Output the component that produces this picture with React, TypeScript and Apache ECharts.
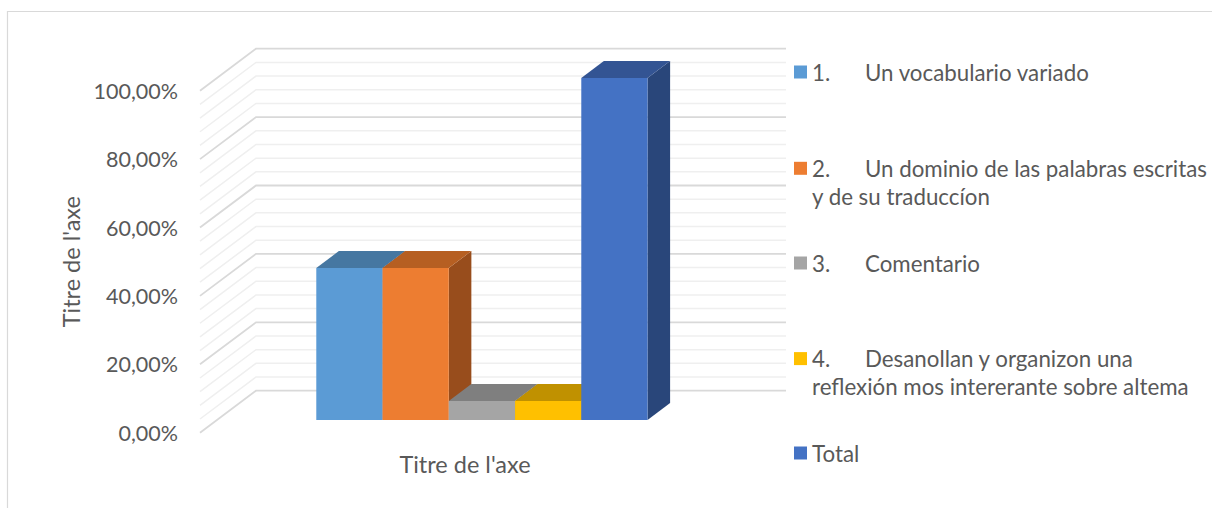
import React, { useEffect, useRef } from 'react';
import * as echarts from 'echarts';

// ---------- data ----------
const CATEGORIES = ["Titre de l'axe"];
const LEGEND_NUMBERS = ['1.', '2.', '3.', '4.', ''];
const LEGEND_LINES = [
  ['Un vocabulario variado'],
  ['Un dominio de las palabras escritas', 'y de su traduccíon'],
  ['Comentario'],
  ['Desanollan y organizon una', 'reflexión mos intererante sobre altema'],
  ['Total'],
];
const VALUES = [0.4444, 0.4444, 0.0556, 0.0556, 1.0];
const Y_TICKS = [0, 0.2, 0.4, 0.6, 0.8, 1.0];
const GRID_LEVELS = [
  0, 0.04, 0.08, 0.12, 0.16, 0.2, 0.24, 0.28, 0.32, 0.36, 0.4, 0.44, 0.48,
  0.52, 0.56, 0.6, 0.64, 0.68, 0.72, 0.76, 0.8, 0.84, 0.88, 0.92, 0.96, 1.0,
];
const AXIS_TITLE_X = "Titre de l'axe";
const AXIS_TITLE_Y = "Titre de l'axe";

// ---------- style ----------
const FRONT = ['#5b9bd5', '#ed7d31', '#a5a5a5', '#ffc000', '#4472c4'];
const TOP = ['#4677a1', '#b65f22', '#7f7f7f', '#c09100', '#335493'];
const SIDE = ['#3d6a91', '#984d1c', '#6e6e6e', '#a67d00', '#29467a'];
const DX = 56; // full depth offset (px)
const DY = -42;
const BAR_FRONT = 0.302; // depth fraction of bar front face
const BAR_DEPTH = 0.403; // depth fraction of bar thickness
const GROUP_FRAC = 0.625; // bars group width / category band
const FONT = 'Lato, "Noto Sans", sans-serif';
const TEXT_COLOR = '#595959';
const LEGEND_FS = 22.3;
const LEGEND_LH = 28.4;

const SERIES_NAMES = LEGEND_LINES.map(
  (l, i) => (LEGEND_NUMBERS[i] ? LEGEND_NUMBERS[i] + ' ' : '') + l.join(' ')
);

const LEGEND_TOPS = [57.8, 125.7, 248.8, 316, 438.8];

function fmtPct(v: number) {
  return (v * 100).toFixed(2).replace('.', ',') + '%';
}

export default function App() {
  const ref = useRef<HTMLDivElement>(null);
  useEffect(() => {
    if (!ref.current) return;
    const chart = echarts.init(ref.current, null, { renderer: 'svg' });

    const gridSeries: any = {
      type: 'custom',
      name: '__grid',
      silent: true,
      z: 1,
      encode: { x: 0, y: 1 },
      data: GRID_LEVELS.map((v) => [0, v, Math.abs(v * 5 - Math.round(v * 5)) < 1e-6 ? 1 : 0])
        .sort((a, b) => a[2] - b[2]),
      renderItem: (params: any, api: any) => {
        const v = api.value(1);
        const major = api.value(2) === 1;
        const cs = params.coordSys;
        const y = api.coord([0, v])[1];
        const x0 = cs.x;
        const x1 = cs.x + cs.width;
        return {
          type: 'polyline',
          silent: true,
          shape: { points: [[x0, y], [x0 + DX, y + DY], [x1 + DX, y + DY]] },
          style: {
            stroke: major ? '#d9d9d9' : '#efefef',
            lineWidth: major ? 1.8 : 1.5,
            fill: null,
          },
        };
      },
    };

    const barSeries = VALUES.map((val, i) => ({
      type: 'custom',
      name: SERIES_NAMES[i],
      z: 2,
      encode: { x: 0, y: 1 },
      itemStyle: { color: FRONT[i] },
      data: [[0, val]],
      renderItem: (params: any, api: any) => {
        const v = api.value(1);
        const base = api.coord([0, 0]);
        const top = api.coord([0, v]);
        const band = api.size([1, 0])[0];
        const w = (band * GROUP_FRAC) / VALUES.length;
        const fx = base[0] - (VALUES.length / 2) * w + i * w + BAR_FRONT * DX;
        const yb = base[1] + BAR_FRONT * DY;
        const yt = top[1] + BAR_FRONT * DY;
        const ddx = BAR_DEPTH * DX;
        const ddy = BAR_DEPTH * DY;
        return {
          type: 'group',
          children: [
            {
              type: 'polygon',
              shape: { points: [[fx + w, yt], [fx + w + ddx, yt + ddy], [fx + w + ddx, yb + ddy], [fx + w, yb]] },
              style: { fill: SIDE[i] },
            },
            {
              type: 'polygon',
              shape: { points: [[fx, yt], [fx + w, yt], [fx + w + ddx, yt + ddy], [fx + ddx, yt + ddy]] },
              style: { fill: TOP[i] },
            },
            {
              type: 'rect',
              shape: { x: fx, y: yt, width: w, height: yb - yt },
              style: { fill: FRONT[i] },
            },
          ],
        };
      },
    }));

    const legends = SERIES_NAMES.map((name, i) => ({
      show: true,
      data: [{ name, icon: 'rect' }],
      left: 794,
      top: LEGEND_TOPS[i],
      padding: 0,
      orient: 'vertical',
      itemWidth: 13,
      itemHeight: 13,
      selectedMode: false,
      formatter: () => {
        const lines = LEGEND_LINES[i];
        const first = LEGEND_NUMBERS[i]
          ? `{n|${LEGEND_NUMBERS[i]}}{t|${lines[0]}}`
          : `{t|${lines[0]}}`;
        if (lines.length === 1) return first;
        return `{t|\u00a0}\n${first}\n{t|${lines[1]}}`;
      },
      textStyle: {
        color: TEXT_COLOR,
        fontFamily: FONT,
        fontSize: LEGEND_FS,
        lineHeight: LEGEND_LH,
        rich: {
          n: { width: 53, color: TEXT_COLOR, fontFamily: FONT, fontSize: LEGEND_FS, lineHeight: LEGEND_LH },
          t: { color: TEXT_COLOR, fontFamily: FONT, fontSize: LEGEND_FS, lineHeight: LEGEND_LH },
        },
      },
    }));

    chart.setOption({
      animation: false,
      backgroundColor: '#ffffff',
      grid: { left: 200, top: 90.7, width: 530, height: 342, containLabel: false },
      xAxis: {
        type: 'category',
        data: CATEGORIES,
        name: AXIS_TITLE_X,
        nameLocation: 'middle',
        nameGap: 19,
        nameTextStyle: { color: TEXT_COLOR, fontFamily: FONT, fontSize: 23.5 },
        axisLine: { show: false },
        axisTick: { show: false },
        axisLabel: { show: false },
        splitLine: { show: false },
      },
      yAxis: {
        type: 'value',
        min: Y_TICKS[0],
        max: Y_TICKS[Y_TICKS.length - 1],
        interval: Y_TICKS[1] - Y_TICKS[0],
        name: AXIS_TITLE_Y,
        nameLocation: 'middle',
        nameRotate: 90,
        nameGap: 117,
        nameTextStyle: { color: TEXT_COLOR, fontFamily: FONT, fontSize: 23.5 },
        axisLine: { show: false },
        axisTick: { show: false },
        splitLine: { show: false },
        axisLabel: {
          formatter: (v: number) => fmtPct(v),
          color: TEXT_COLOR,
          fontFamily: FONT,
          fontSize: 21.5,
          margin: 22,
        },
      },
      legend: legends,
      graphic: [
        {
          type: 'rect',
          silent: true,
          z: -1,
          shape: { x: 7.5, y: 11.5, width: 1260, height: 560 },
          style: { fill: null, stroke: '#d9d9d9', lineWidth: 1.2 },
        },
      ],
      series: [gridSeries, ...barSeries],
    });

    return () => chart.dispose();
  }, []);

  return (
    <div
      ref={ref}
      style={{ position: 'fixed', left: 0, top: 0, width: 1212, height: 508, background: '#fff' }}
    />
  );
}
